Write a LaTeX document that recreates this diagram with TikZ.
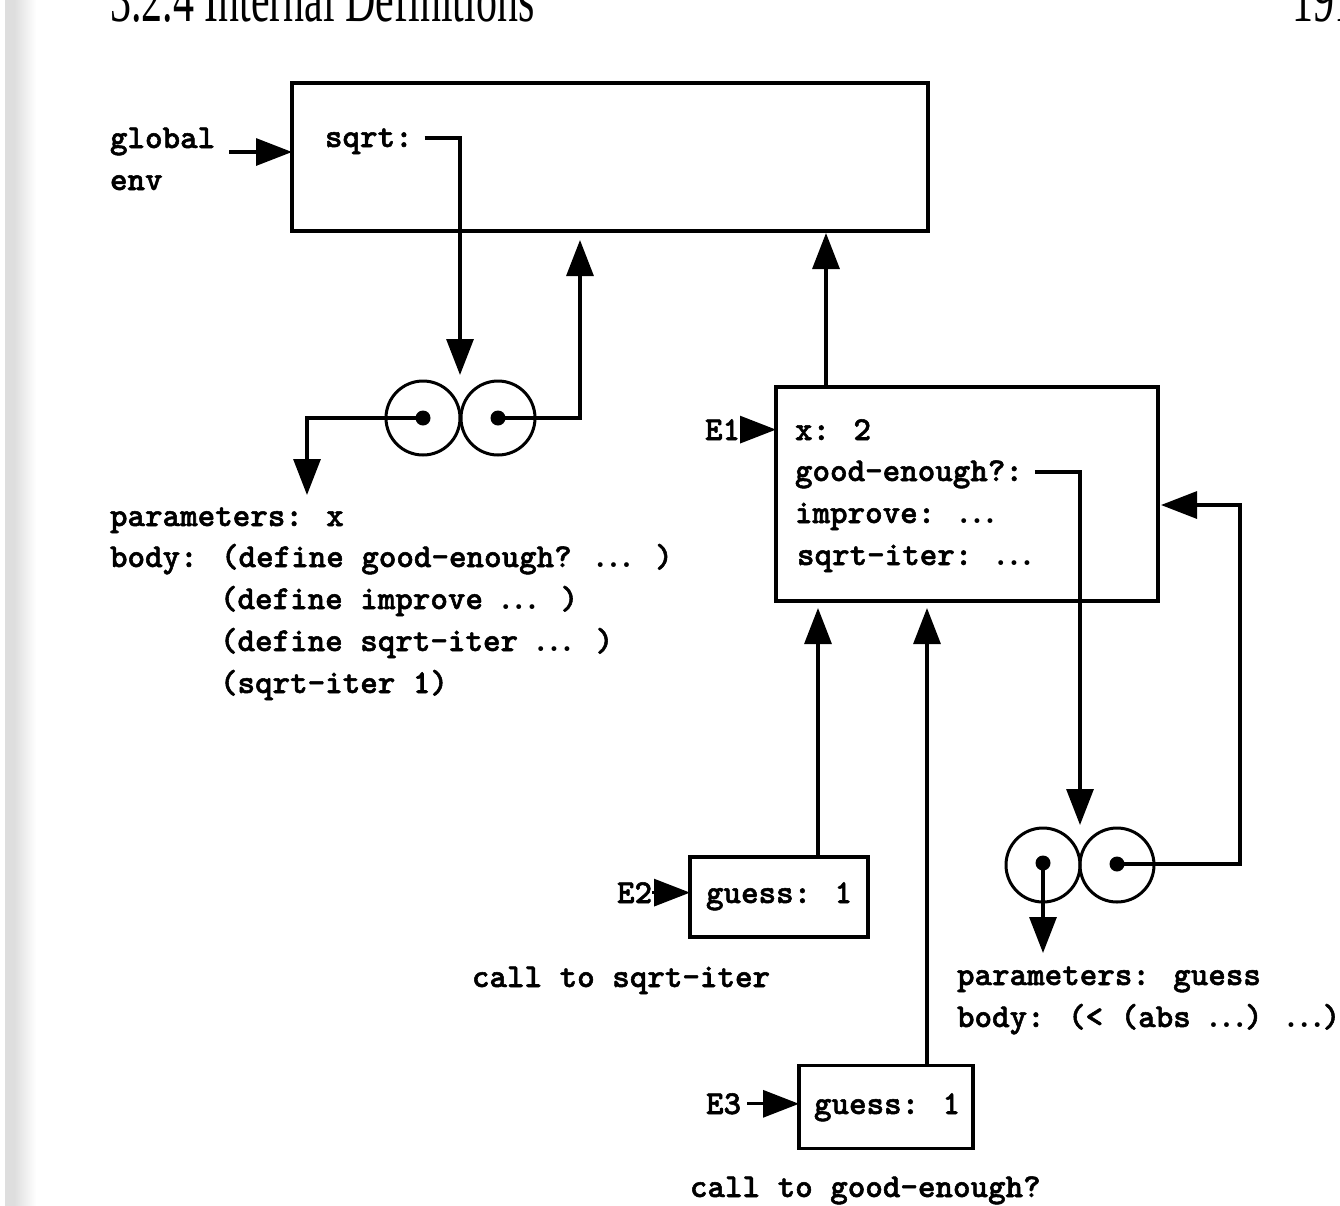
\documentclass[tikz,border=0pt]{standalone}
\usepackage{fontspec}
\newfontfamily\hdrfont{Liberation Serif}
\newfontfamily\ttbold{lmmonolt10-bold}[Extension=.otf, BoldFont=lmmonolt10-bold, BoldFeatures={FakeBold=1.6}]
\usetikzlibrary{arrows.meta,calc}
\newcommand\dts{{\rmfamily\bfseries .\kern.08em.\kern.08em.}}
\begin{document}
\begin{tikzpicture}[x=0.5pt,y=-0.5pt,
  every node/.style={inner sep=0pt, outer sep=0pt},
  txt/.style={font={\ttbold\bfseries\fontsize{16.7pt}{20pt}\selectfont}, anchor=base west},
  hdr/.style={font={\hdrfont\fontsize{21pt}{21pt}\selectfont}, anchor=base west},
  frame/.style={draw, line width=1.7pt},
  cell/.style={draw, circle, line width=1.5pt, minimum size=37pt},
  dotn/.style={circle, fill, minimum size=7.5pt},
  conn/.style={line width=1.6pt},
  arr/.style={conn, -{Triangle[length=18pt,width=13.5pt]}}]
\useasboundingbox (0,0) rectangle (1340,1206);
% scan shading at left edge
\fill[black!13] (5,0) rectangle (14,1206);
\shade[left color=black!13, right color=white] (14,0) rectangle (36,1206);
% running head (cut off by the page edge)
\node[hdr] (head) at (110,21) {\scalebox{1}[1.6]{3.2.4 Internal Definitions}};
\node[hdr] (pagenum) at (1292,21) {\scalebox{1}[1.6]{191}};

% frames
\node[frame, minimum width=318pt, minimum height=74pt] (G) at (610,157) {};
\node[frame, minimum width=191pt, minimum height=107pt] (E1) at (967,494) {};
\node[frame, minimum width=89pt, minimum height=40pt] (E2) at (779,897) {};
\node[frame, minimum width=87pt, minimum height=41.5pt] (E3) at (886,1107) {};

% procedure objects
\node[cell] (p1l) at (423,418) {};
\node[cell] (p1r) at (498,418) {};
\node[dotn] (d1l) at (423,418) {};
\node[dotn] (d1r) at (498,418) {};
\node[cell] (p2l) at (1043,865) {};
\node[cell] (p2r) at (1117,865) {};
\node[dotn] (d2l) at (1043,863) {};
\node[dotn] (d2r) at (1117,864) {};

% texts
\node[txt] (glob) at (110,148) {global};
\node[txt] (env) at (110,190) {env};
\node[txt] (sq) at (325,147) {sqrt:};

\node[txt] (par1) at (110,526) {parameters: x};
\node[txt] (bod1) at (110,567) {body: (define good-enough? \dts{} )};
\node[txt] (bod2) at (220,609) {(define improve \dts{} )};
\node[txt] (bod3) at (220,651) {(define sqrt-iter \dts{} )};
\node[txt] (bod4) at (220,693) {(sqrt-iter 1)};

\node[txt] (e1) at (705,440) {E1};
\node[txt] (x2) at (795,440) {x: 2};
\node[txt] (ge) at (795,481) {good-enough?:};
\node[txt] (imp) at (795,523) {improve: \dts};
\node[txt] (si) at (797,565) {sqrt-iter: \dts};

\node[txt] (e2) at (617,903) {E2};
\node[txt] (g2) at (706,903) {guess: 1};
\node[txt] (c2) at (472,987) {call to sqrt-iter};

\node[txt] (e3) at (706,1114) {E3};
\node[txt] (g3) at (814,1114) {guess: 1};
\node[txt] (c3) at (690,1197) {call to good-enough?};

\node[txt] (par2) at (957,985) {parameters: guess};
\node[txt] (bod5) at (957,1027) {body: (< (abs \dts) \dts)};

% connectors
\coordinate (gs) at ($(glob.base east)+(14,4)$);
\draw[arr] (gs) -- (gs -| G.west);

\coordinate (ss) at ($(sq.base east)+(12,-9)$);
\draw[arr] (ss) -| ($(p1l.east)+(0,-43)$);
\draw[arr] (d1r.center) -| ($(G.south west)+(288,9)$);
\draw[arr] (d1l.center) -| ($(p1l.center)+(-116,77)$);

\draw[arr] (e1.east) -- (e1.east -| E1.west);
\coordinate (e1t) at ($(E1.north west)+(50,0)$);
\draw[arr, shorten >=1pt] (e1t) -- (e1t |- G.south);

\coordinate (gq) at ($(ge.base east)+(12,-9)$);
\draw[arr] (gq) -| ($(p2l.east)+(0,-40)$);
\coordinate (rt) at ($(E1.east)+(82,11)$);
\draw[arr] (d2r.center) -| (rt) -- ($(rt -| E1.east)+(3,0)$);
\draw[arr] (d2l.center) -- ($(d2l.center)+(0,90)$);

\draw[arr] (e2.east) -- (e2.east -| E2.west);
\coordinate (e2t) at ($(E2.north west)+(128,0)$);
\draw[arr, shorten >=3.5pt] (e2t) -- (e2t |- E1.south);

\coordinate (e3s) at ($(e3.east)+(6,0)$);
\draw[arr] (e3s) -- (e3s -| E3.west);
\coordinate (e3t) at ($(E3.north west)+(128,0)$);
\draw[arr, shorten >=3.5pt] (e3t) -- (e3t |- E1.south);
\end{tikzpicture}
\end{document}
